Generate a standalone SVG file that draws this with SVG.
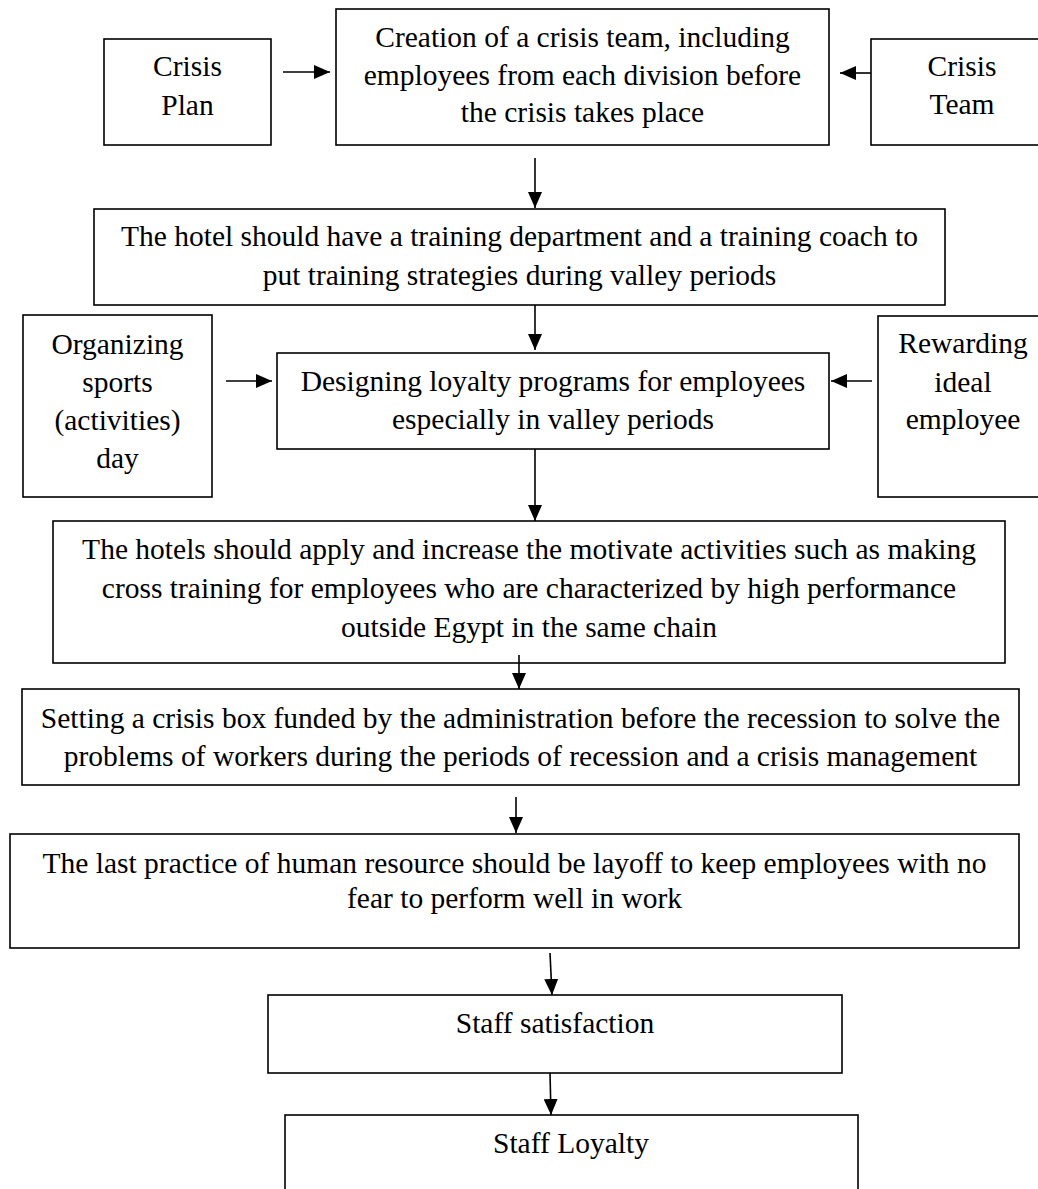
<svg xmlns="http://www.w3.org/2000/svg" width="1038" height="1189" viewBox="0 0 1038 1189">
<style>
.box{fill:#fff;stroke:#000;stroke-width:1.6}
.t{font-family:"Liberation Serif","Times New Roman",serif;font-size:29.5px;fill:#000;text-anchor:middle}
.c{stroke:#000;stroke-width:1.6;fill:none;marker-end:url(#ah)}
</style>
<defs>
<marker id="ah" markerUnits="userSpaceOnUse" markerWidth="16" markerHeight="14" refX="16" refY="7" orient="auto">
<path d="M0,0 L16,7 L0,14 z" fill="#000"/>
</marker>
</defs>
<rect width="1038" height="1189" fill="#fff"/>
<g id="crisis-plan"><rect class="box" x="104" y="39" width="167" height="106"/>
<text class="t" x="187.5" y="76">Crisis</text><text class="t" x="187.5" y="115">Plan</text></g>
<g id="creation"><rect class="box" x="336" y="9" width="493" height="136"/>
<text class="t" x="582.5" y="47">Creation of a crisis team, including</text>
<text class="t" x="582.5" y="85">employees from each division before</text>
<text class="t" x="582.5" y="122">the crisis takes place</text></g>
<g id="crisis-team"><rect class="box" x="871" y="39" width="200" height="106"/>
<text class="t" x="962" y="76">Crisis</text><text class="t" x="962" y="114">Team</text></g>
<g id="training"><rect class="box" x="94" y="209" width="851" height="96"/>
<text class="t" x="519.5" y="246">The hotel should have a training department and a training coach to</text>
<text class="t" x="519.5" y="285">put training strategies during valley periods</text></g>
<g id="organizing"><rect class="box" x="23" y="315" width="189" height="182"/>
<text class="t" x="117.5" y="354">Organizing</text><text class="t" x="117.5" y="392">sports</text>
<text class="t" x="117.5" y="430">(activities)</text><text class="t" x="117.5" y="468">day</text></g>
<g id="designing"><rect class="box" x="277" y="353" width="552" height="96"/>
<text class="t" x="553" y="391">Designing loyalty programs for employees</text>
<text class="t" x="553" y="429">especially in valley periods</text></g>
<g id="rewarding"><rect class="box" x="878" y="316" width="200" height="181"/>
<text class="t" x="963" y="353">Rewarding</text><text class="t" x="963" y="392">ideal</text>
<text class="t" x="963" y="429">employee</text></g>
<g id="motivate"><rect class="box" x="53" y="521" width="952" height="142"/>
<text class="t" x="529" y="559">The hotels should apply and increase the motivate activities such as making</text>
<text class="t" x="529" y="598">cross training for employees who are characterized by high performance</text>
<text class="t" x="529" y="637">outside Egypt in the same chain</text></g>
<g id="crisis-box"><rect class="box" x="22" y="689" width="997" height="96"/>
<text class="t" x="520.5" y="728">Setting a crisis box funded by the administration before the recession to solve the</text>
<text class="t" x="520.5" y="766">problems of workers during the periods of recession and a crisis management</text></g>
<g id="layoff"><rect class="box" x="10" y="834" width="1009" height="114"/>
<text class="t" x="514.5" y="873">The last practice of human resource should be layoff to keep employees with no</text>
<text class="t" x="514.5" y="908">fear to perform well in work</text></g>
<g id="satisfaction"><rect class="box" x="268" y="995" width="574" height="78"/>
<text class="t" x="555" y="1033">Staff satisfaction</text></g>
<g id="loyalty"><rect class="box" x="285" y="1115" width="573" height="100"/>
<text class="t" x="571" y="1153">Staff Loyalty</text></g>
<g id="connectors">
<line class="c" x1="283" y1="72" x2="330" y2="72"/>
<line class="c" x1="871" y1="73" x2="840" y2="73"/>
<line class="c" x1="535" y1="158" x2="535" y2="208"/>
<line class="c" x1="535" y1="305" x2="535" y2="350"/>
<line class="c" x1="226" y1="381" x2="272" y2="381"/>
<line class="c" x1="872" y1="381" x2="831" y2="381"/>
<line class="c" x1="535" y1="449" x2="535" y2="521"/>
<line class="c" x1="519" y1="655" x2="519" y2="689"/>
<line class="c" x1="516" y1="797" x2="516" y2="833"/>
<line class="c" x1="550" y1="953" x2="552" y2="995"/>
<line class="c" x1="550" y1="1073" x2="551" y2="1115"/>
</g>
</svg>
